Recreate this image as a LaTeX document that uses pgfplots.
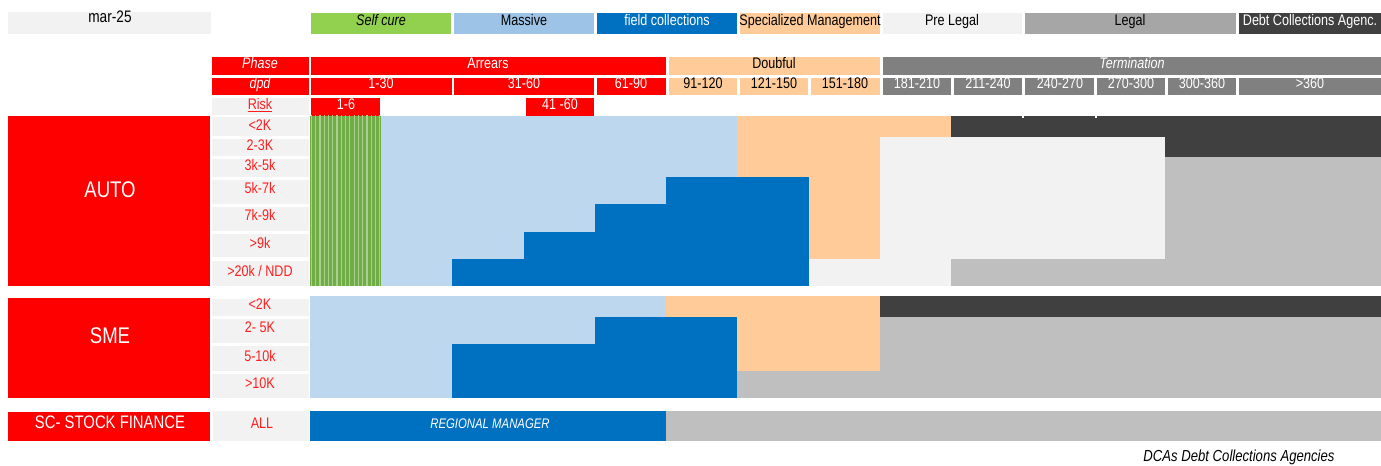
\documentclass[border=0pt]{standalone}
\usepackage{fontspec}
\setmainfont{Liberation Sans}[FakeStretch=0.82]
\usepackage{pgfplots}
\pgfplotsset{compat=1.18}
\usetikzlibrary{patterns.meta}
\definecolor{cred}{HTML}{FF0000}
\definecolor{ctxtred}{HTML}{FF1F1F}
\definecolor{cgreen}{HTML}{92D050}
\definecolor{cstripe}{HTML}{70AD47}
\definecolor{cstripelight}{HTML}{A9D08E}
\definecolor{cmassive}{HTML}{9DC3E6}
\definecolor{clblue}{HTML}{BDD7EE}
\definecolor{cblue}{HTML}{0070C0}
\definecolor{cpeach}{HTML}{FFCC99}
\definecolor{cpre}{HTML}{F2F2F2}
\definecolor{clegal}{HTML}{A6A6A6}
\definecolor{cdca}{HTML}{404040}
\definecolor{cbody}{HTML}{BFBFBF}
\definecolor{cterm}{HTML}{808080}
\newcommand{\R}[5]{\addplot[fill=#1,draw=none,forget plot] coordinates {(#2,#3) (#4,#3) (#4,#5) (#2,#5)} -- cycle;}
\newcommand{\fs}[1]{\fontsize{#1}{#1}\selectfont}
\tikzset{txt/.style={inner sep=0pt, outer sep=0pt, anchor=base}}
\begin{document}
\begin{tikzpicture}
\useasboundingbox (0,0) rectangle (1035.75pt,349.5pt);
\begin{axis}[at={(0,0)}, anchor=south west, scale only axis,
  width=1035.75pt, height=349.5pt,
  xmin=0, xmax=1381, ymin=0, ymax=466, y dir=reverse,
  hide axis, clip=false]
\R{white}{0}{0}{1381}{466}
% legend row
\R{cpre}{8}{12}{211}{34}
\R{cgreen}{311}{13}{451}{34}
\R{cmassive}{454}{13}{594}{34}
\R{cblue}{597}{13}{737}{34}
\R{cpeach}{740}{13}{880}{34}
\R{cpre}{883}{13}{1022}{34}
\R{clegal}{1025}{13}{1236}{34}
\R{cdca}{1239}{13}{1381}{34}
% phase row
\R{cred}{212}{57}{309}{75}
\R{cred}{311}{57}{666}{75}
\R{cpeach}{669}{57}{880}{75}
\R{cterm}{883}{57}{1381}{75}
% dpd row
\R{cred}{212}{78}{309}{95}
\R{cred}{311}{78}{452}{95}
\R{cred}{454}{78}{594}{95}
\R{cred}{597}{78}{666}{95}
\R{cpeach}{669}{78}{737}{95}
\R{cpeach}{740}{78}{808}{95}
\R{cpeach}{811}{78}{880}{95}
\R{cterm}{883}{78}{951}{95}
\R{cterm}{954}{78}{1022}{95}
\R{cterm}{1025}{78}{1094}{95}
\R{cterm}{1097}{78}{1165}{95}
\R{cterm}{1168}{78}{1236}{95}
\R{cterm}{1239}{78}{1381}{95}
% risk row
\R{cpre}{212}{98}{309}{115}
\R{cred}{311}{98}{380}{116}
\R{cred}{526}{98}{594}{116}
% AUTO
\R{cred}{8}{116}{210}{286}
\R{cpre}{212}{117}{309}{136}
\R{cpre}{212}{139}{309}{156}
\R{cpre}{212}{159}{309}{177}
\R{cpre}{212}{180}{309}{204}
\R{cpre}{212}{207}{309}{231}
\R{cpre}{212}{234}{309}{257}
\R{cpre}{212}{261}{309}{286}
\R{cstripe}{310}{116}{381}{286}
\addplot[draw=none, forget plot, pattern={Lines[angle=90,distance=3.2pt,line width=0.9pt]}, pattern color=cstripelight] coordinates {(310,116) (381,116) (381,286) (310,286)} -- cycle;
\R{clblue}{381}{116}{737}{286}
\R{cblue}{452}{259}{809}{286}
\R{cblue}{524}{232}{809}{259}
\R{cblue}{595}{204}{809}{232}
\R{cblue}{666}{177}{809}{204}
\R{cpeach}{737}{116}{951}{137}
\R{cpeach}{737}{137}{880}{177}
\R{cpeach}{809}{177}{880}{259}
\R{cpre}{880}{137}{1165}{259}
\R{cpre}{809}{259}{951}{286}
\R{cdca}{951}{116}{1381}{137}
\R{cdca}{1165}{137}{1381}{157}
\R{cbody}{1165}{157}{1381}{259}
\R{cbody}{951}{259}{1381}{286}
\R{white}{1022}{116}{1024}{118}
\R{white}{1095}{116}{1097}{118}
% SME
\R{cred}{8}{298}{210}{398}
\R{cpre}{212}{299}{309}{316}
\R{cpre}{212}{319}{309}{343}
\R{cpre}{212}{346}{309}{371}
\R{cpre}{212}{374}{309}{398}
\R{clblue}{310}{296}{666}{317}
\R{clblue}{310}{317}{595}{344}
\R{clblue}{310}{344}{452}{398}
\R{cblue}{595}{317}{737}{398}
\R{cblue}{452}{344}{595}{398}
\R{cpeach}{666}{296}{880}{317}
\R{cpeach}{737}{317}{880}{371}
\R{cdca}{880}{296}{1381}{317}
\R{cbody}{880}{317}{1381}{398}
\R{cbody}{737}{371}{880}{398}
% SC stock finance
\R{cred}{8}{412}{210}{441}
\R{cpre}{213}{411}{309}{441}
\R{cblue}{310}{411}{666}{441}
\R{cbody}{666}{411}{1381}{441}
% ---- texts ----
\node[txt, font=\fs{12.5pt}] at (axis cs:110,23) {mar-25};
\node[txt, font=\fs{11.5pt}\itshape] at (axis cs:381,26) {Self cure};
\node[txt, font=\fs{11.5pt}] at (axis cs:524,26) {Massive};
\node[txt, font=\fs{11.5pt}, text=white] at (axis cs:667,26) {field collections};
\node[txt, font=\fs{11.5pt}] at (axis cs:810,26) {Specialized Management};
\node[txt, font=\fs{11.5pt}] at (axis cs:952,26) {Pre Legal};
\node[txt, font=\fs{11.5pt}] at (axis cs:1130,26) {Legal};
\node[txt, font=\fs{11.5pt}, text=white] at (axis cs:1310,26) {Debt Collections Agenc.};
\node[txt, font=\fs{11.5pt}\itshape, text=white] at (axis cs:260,68.5) {Phase};
\node[txt, font=\fs{11.5pt}, text=white] at (axis cs:488,68.5) {Arrears};
\node[txt, font=\fs{11.5pt}] at (axis cs:774,68.5) {Doubful};
\node[txt, font=\fs{11.5pt}\itshape, text=white] at (axis cs:1132,68.5) {Termination};
\node[txt, font=\fs{11.5pt}\itshape, text=white] at (axis cs:260,89) {dpd};
\node[txt, font=\fs{11.5pt}, text=white] at (axis cs:381,89) {1-30};
\node[txt, font=\fs{11.5pt}, text=white] at (axis cs:524,89) {31-60};
\node[txt, font=\fs{11.5pt}, text=white] at (axis cs:631,89) {61-90};
\node[txt, font=\fs{11.5pt}] at (axis cs:703,89) {91-120};
\node[txt, font=\fs{11.5pt}] at (axis cs:774,89) {121-150};
\node[txt, font=\fs{11.5pt}] at (axis cs:845,89) {151-180};
\node[txt, font=\fs{11.5pt}, text=white] at (axis cs:917,89) {181-210};
\node[txt, font=\fs{11.5pt}, text=white] at (axis cs:988,89) {211-240};
\node[txt, font=\fs{11.5pt}, text=white] at (axis cs:1060,89) {240-270};
\node[txt, font=\fs{11.5pt}, text=white] at (axis cs:1131,89) {270-300};
\node[txt, font=\fs{11.5pt}, text=white] at (axis cs:1202,89) {300-360};
\node[txt, font=\fs{11.5pt}, text=white] at (axis cs:1310,89) {>360};
\node[txt, font=\fs{11.5pt}, text=ctxtred] at (axis cs:260,109.5) {\underline{Risk}};
\node[txt, font=\fs{11.5pt}, text=white] at (axis cs:346,109.5) {1-6};
\node[txt, font=\fs{11.5pt}, text=white] at (axis cs:560,109.5) {41 -60};
\node[txt, font=\fs{17pt}, text=white] at (axis cs:110,197.5) {AUTO};
\node[txt, font=\fs{11.5pt}, text=ctxtred] at (axis cs:260,131) {<2K};
\node[txt, font=\fs{11.5pt}, text=ctxtred] at (axis cs:260,150.5) {2-3K};
\node[txt, font=\fs{11.5pt}, text=ctxtred] at (axis cs:260,171) {3k-5k};
\node[txt, font=\fs{11.5pt}, text=ctxtred] at (axis cs:260,194) {5k-7k};
\node[txt, font=\fs{11.5pt}, text=ctxtred] at (axis cs:260,221) {7k-9k};
\node[txt, font=\fs{11.5pt}, text=ctxtred] at (axis cs:260,248.5) {>9k};
\node[txt, font=\fs{11.5pt}, text=ctxtred] at (axis cs:260,276.5) {>20k / NDD};
\node[txt, font=\fs{17pt}, text=white] at (axis cs:110,344) {SME};
\node[txt, font=\fs{11.5pt}, text=ctxtred] at (axis cs:260,310) {<2K};
\node[txt, font=\fs{11.5pt}, text=ctxtred] at (axis cs:260,333) {2- 5K};
\node[txt, font=\fs{11.5pt}, text=ctxtred] at (axis cs:260,361.5) {5-10k};
\node[txt, font=\fs{11.5pt}, text=ctxtred] at (axis cs:260,388.5) {>10K};
\node[txt, font=\fs{13.6pt}, text=white] at (axis cs:110,428) {SC- STOCK FINANCE};
\node[txt, font=\fs{11.5pt}, text=ctxtred] at (axis cs:262,428) {ALL};
\node[txt, font=\fs{10.4pt}\itshape, text=white] at (axis cs:490,428) {REGIONAL MANAGER};
\node[txt, font=\fs{12pt}\itshape] at (axis cs:1239,461.5) {DCAs Debt Collections Agencies};
\end{axis}
\end{tikzpicture}
\end{document}
